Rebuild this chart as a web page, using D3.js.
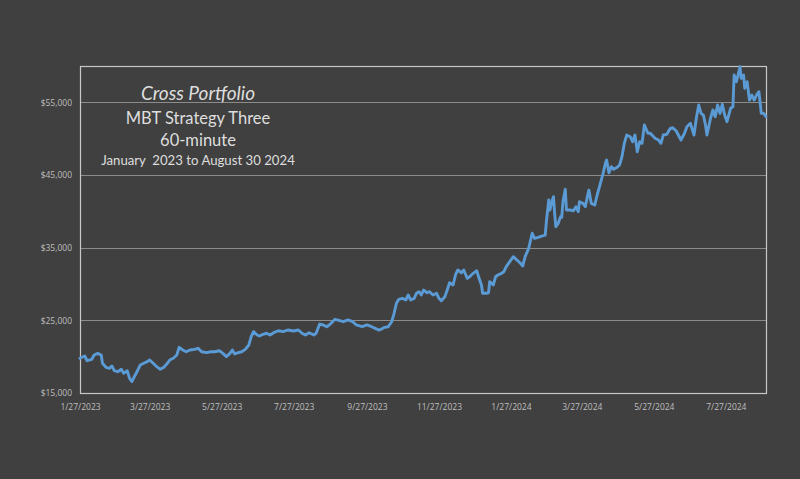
<!DOCTYPE html>
<html>
<head>
<meta charset="utf-8">
<script src="https://cdn.jsdelivr.net/npm/d3@7/dist/d3.min.js"></script>
<style>
  html, body { margin: 0; padding: 0; background: #404040; }
  svg { display: block; }
</style>
</head>
<body>
<svg id="chart" width="800" height="479"></svg>
<script>
// ---- Data ----
const dates = [
"2023-01-27","2023-01-31","2023-02-02","2023-02-06","2023-02-08","2023-02-11","2023-02-14","2023-02-15","2023-02-18","2023-02-21",
"2023-02-23","2023-02-25","2023-02-28","2023-03-03","2023-03-05","2023-03-08","2023-03-10","2023-03-12","2023-03-14","2023-03-17",
"2023-03-19","2023-03-22","2023-03-25","2023-03-27","2023-03-30","2023-04-02","2023-04-05","2023-04-08","2023-04-11","2023-04-13",
"2023-04-16","2023-04-19","2023-04-21","2023-04-24","2023-04-27","2023-04-30","2023-05-04","2023-05-07","2023-05-10","2023-05-14",
"2023-05-18","2023-05-21","2023-05-25","2023-05-28","2023-05-31","2023-06-03","2023-06-05","2023-06-07","2023-06-10","2023-06-13",
"2023-06-16","2023-06-19","2023-06-21","2023-06-23","2023-06-26","2023-06-28","2023-07-01","2023-07-04","2023-07-07","2023-07-10",
"2023-07-14","2023-07-18","2023-07-22","2023-07-27","2023-07-31","2023-08-03","2023-08-06","2023-08-09","2023-08-13","2023-08-15",
"2023-08-18","2023-08-21","2023-08-24","2023-08-27","2023-08-31","2023-09-04","2023-09-07","2023-09-11","2023-09-15","2023-09-18",
"2023-09-23","2023-09-27","2023-10-01","2023-10-04","2023-10-07","2023-10-09","2023-10-12","2023-10-15","2023-10-18","2023-10-20",
"2023-10-22","2023-10-24","2023-10-27","2023-10-30","2023-11-01","2023-11-03","2023-11-06","2023-11-08","2023-11-10","2023-11-12",
"2023-11-14","2023-11-17","2023-11-19","2023-11-22","2023-11-25","2023-11-27","2023-11-29","2023-12-02","2023-12-04","2023-12-06",
"2023-12-09","2023-12-11","2023-12-13","2023-12-16","2023-12-18","2023-12-21","2023-12-23","2023-12-26","2023-12-29","2023-12-31",
"2024-01-02","2024-01-03","2024-01-06","2024-01-08","2024-01-09","2024-01-12","2024-01-14","2024-01-16","2024-01-19","2024-01-21",
"2024-01-23","2024-01-26","2024-01-29","2024-02-01","2024-02-04","2024-02-06","2024-02-08","2024-02-11","2024-02-14","2024-02-16",
"2024-02-19","2024-02-22","2024-02-25","2024-02-26","2024-02-28","2024-02-29","2024-03-02","2024-03-03","2024-03-04","2024-03-05",
"2024-03-07","2024-03-09","2024-03-10","2024-03-11","2024-03-13","2024-03-14","2024-03-17","2024-03-20","2024-03-22","2024-03-24",
"2024-03-25","2024-03-28","2024-03-30","2024-04-01","2024-04-02","2024-04-04","2024-04-07","2024-04-09","2024-04-11","2024-04-14",
"2024-04-16","2024-04-17","2024-04-19","2024-04-21","2024-04-23","2024-04-26","2024-04-28","2024-04-30","2024-05-02","2024-05-04",
"2024-05-07","2024-05-09","2024-05-11","2024-05-13","2024-05-15","2024-05-17","2024-05-19","2024-05-22","2024-05-24","2024-05-28",
"2024-05-31","2024-06-02","2024-06-04","2024-06-07","2024-06-10","2024-06-12","2024-06-15","2024-06-19","2024-06-22","2024-06-24",
"2024-06-27","2024-06-30","2024-07-02","2024-07-04","2024-07-06","2024-07-08","2024-07-10","2024-07-11","2024-07-14","2024-07-16",
"2024-07-18","2024-07-20","2024-07-22","2024-07-24","2024-07-26","2024-07-28","2024-07-31","2024-08-02","2024-08-03","2024-08-05",
"2024-08-07","2024-08-08","2024-08-09","2024-08-11","2024-08-12","2024-08-14","2024-08-16","2024-08-18","2024-08-20","2024-08-22",
"2024-08-24","2024-08-26","2024-08-28","2024-08-30"
];
const equity = [
19780,20090,19440,19640,20230,20460,20230,19090,18540,18400,
18720,18070,17930,18260,17710,18070,17020,16560,17240,18170,
18850,19090,19310,19540,19090,18620,18260,18540,19090,19540,
19780,20230,21290,20920,20680,20920,21010,21150,20680,20550,
20680,20680,20820,20460,20000,20460,20920,20370,20550,20680,
21010,21610,22750,23440,22980,22840,23080,23220,22980,23300,
23570,23440,23670,23530,23670,23220,22980,23300,22980,23220,
24490,24360,24120,24490,25140,24950,24810,25050,24810,24360,
24120,24360,24120,23900,23670,23770,24040,24120,24810,25970,
27340,27890,28030,27800,28490,27800,28030,28720,28940,28490,
29170,28800,28940,28490,28720,28030,27700,28250,29170,30180,
29860,31240,31930,31550,31930,30780,31000,31470,31830,30780,
29860,28720,28720,28800,30320,29860,31000,31240,31470,31690,
32380,33070,33760,33300,32850,32480,33760,34910,36980,36290,
36420,36600,36740,38570,41560,40180,41560,42010,39730,37880,
38350,39260,39180,41320,43030,40180,40180,40080,40640,39950,
41320,41100,40640,42250,42930,41100,40870,42250,43390,45230,
46610,47060,45310,46140,45780,46060,46370,47520,49360,50500,
50270,49580,50500,48200,49580,49360,51880,50740,50740,50050,
49810,49360,50500,50600,51420,51510,51050,49810,50740,51640,
52110,50500,52800,54630,53490,53250,51640,50500,52800,53940,
53020,54630,53490,54730,53250,52330,54180,54400,58760,57840,
59210,59900,58300,58760,56930,57840,55320,56010,55320,56010,
56460,53490,53490,53020
];
const yTicks = [15000, 25000, 35000, 45000, 55000];
const xTickDates = ["2023-01-27","2023-03-27","2023-05-27","2023-07-27","2023-09-27","2023-11-27",
                    "2024-01-27","2024-03-27","2024-05-27","2024-07-27"];
const titleLines = ["Cross Portfolio", "MBT Strategy Three", "60-minute", "January  2023 to August 30 2024"];

// ---- Chart ----
const W = 800, H = 479;
const plot = { left: 80, right: 766, top: 66, bottom: 393 };
const parse = d3.utcParse("%Y-%m-%d");
const data = dates.map((d, i) => ({ date: parse(d), value: equity[i] }));

const svg = d3.select("#chart");
svg.append("rect").attr("x", 0).attr("y", 0).attr("width", W).attr("height", H).attr("fill", "#404040");

const x = d3.scaleUtc()
  .domain([parse("2023-01-27"), parse("2024-08-30")])
  .range([plot.left, plot.right]);
const y = d3.scaleLinear().domain([15000, 60000]).range([plot.bottom, plot.top]);

// gridlines
svg.append("g")
  .selectAll("line")
  .data(yTicks.filter(t => t > 15000))
  .join("line")
  .attr("x1", plot.left).attr("x2", plot.right)
  .attr("y1", d => Math.round(y(d)) + 0.5).attr("y2", d => Math.round(y(d)) + 0.5)
  .attr("stroke", "#8c8c8c").attr("stroke-width", 1);

// y axis labels
const yAxis = d3.axisLeft(y).tickValues(yTicks).tickSize(0).tickPadding(8)
  .tickFormat(d => "$" + d3.format(",")(d));
const gy = svg.append("g").attr("transform", `translate(${plot.left},0)`).call(yAxis);
gy.select(".domain").remove();
gy.selectAll("text").attr("fill", "#bfbfbf").style("font-family", "'Open Sans', sans-serif").style("font-size", "8.5px");

// x axis labels
const xAxis = d3.axisBottom(x).tickValues(xTickDates.map(parse)).tickSize(0).tickPadding(11)
  .tickFormat(d => `${d.getUTCMonth() + 1}/${d.getUTCDate()}/${d.getUTCFullYear()}`);
const gx = svg.append("g").attr("transform", `translate(0,${plot.bottom})`).call(xAxis);
gx.select(".domain").remove();
gx.selectAll("text").attr("fill", "#bfbfbf").style("font-family", "'Open Sans', sans-serif").style("font-size", "8.5px");

// plot border
svg.append("rect")
  .attr("x", plot.left + 0.5).attr("y", plot.top + 0.5)
  .attr("width", plot.right - plot.left).attr("height", plot.bottom - plot.top)
  .attr("fill", "none").attr("stroke", "#c8c8c8").attr("stroke-width", 1.2);

// line
const line = d3.line().x(d => x(d.date)).y(d => y(d.value));
svg.append("path").datum(data)
  .attr("d", line)
  .attr("fill", "none")
  .attr("stroke", "#5b9bd5")
  .attr("stroke-width", 2.9)
  .attr("stroke-linejoin", "round")
  .attr("stroke-linecap", "round");

// titles
const tx = 198;
const tStyles = [
  { y: 100, size: 19, italic: true },
  { y: 124, size: 16.5, italic: false },
  { y: 146, size: 16.5, italic: false },
  { y: 165, size: 13.2, italic: false }
];
titleLines.forEach((t, i) => {
  svg.append("text")
    .attr("x", tx).attr("y", tStyles[i].y)
    .attr("text-anchor", "middle")
    .attr("fill", "#dedede")
    .style("white-space", "pre")
    .style("font-family", "Lato, 'Open Sans', sans-serif")
    .style("font-size", tStyles[i].size + "px")
    .style("font-style", tStyles[i].italic ? "italic" : "normal")
    .text(t);
});
</script>
</body>
</html>
